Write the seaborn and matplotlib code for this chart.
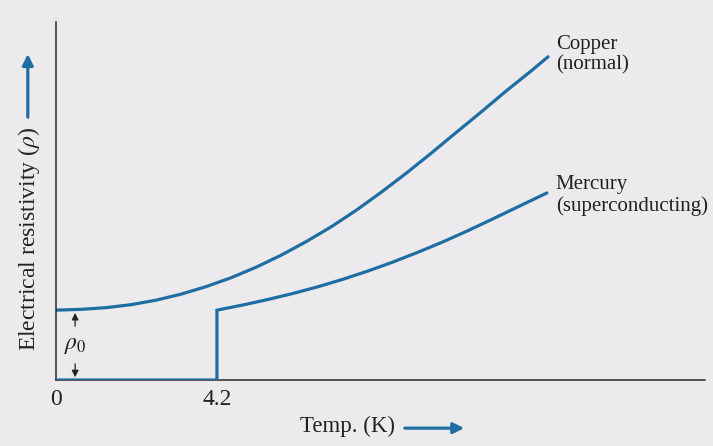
import pandas as pd
import matplotlib.pyplot as plt
import matplotlib.patches as mpatches
import seaborn as sns

# values (temperature in K, resistivity in arbitrary units)
copper_temp = [0, 0.65, 1.30, 1.96, 2.61, 3.26, 3.91, 4.57, 5.22, 5.87, 6.52,
               7.18, 7.83, 8.48, 9.13, 9.78, 10.44, 11.09, 11.74, 12.39, 12.84]
copper_rho = [70, 70.8, 72.5, 75.5, 80, 86, 93.5, 102.5, 113, 125, 138.5,
              153.5, 170, 188, 207, 227, 248, 268.5, 289.5, 309.5, 324]

mercury_temp = [0, 4.2, 4.2, 4.88, 5.53, 6.18, 6.84, 7.49, 8.14, 8.79, 9.44,
                10.10, 10.75, 11.40, 12.05, 12.81]
mercury_rho = [0, 0, 70, 75.2, 80.7, 86.7, 93.5, 101, 109.2, 118.2, 128,
               138.5, 149.7, 161.5, 173.5, 187.5]

x_ticks = [0, 4.2]
x_tick_labels = ["0", "4.2"]

blue = "#1f6ea3"
ink = "#222222"
bg = "#eceaec"

sns.set_theme(style="white")
plt.rcParams["font.family"] = ["Liberation Serif", "DejaVu Serif"]
plt.rcParams["mathtext.fontset"] = "stix"

fig = plt.figure(figsize=(7.13, 4.46), dpi=100, facecolor=bg)
ax = fig.add_axes([0.0785, 0.148, 0.910, 0.803])
ax.set_facecolor(bg)

cu = pd.DataFrame({"T": copper_temp, "rho": copper_rho})
hg = pd.DataFrame({"T": mercury_temp, "rho": mercury_rho})

sns.lineplot(data=cu, x="T", y="rho", sort=False, estimator=None, color=blue,
             lw=2.3, ax=ax, solid_joinstyle="round")
sns.lineplot(data=hg, x="T", y="rho", sort=False, estimator=None, color=blue,
             lw=2.3, ax=ax, zorder=5, solid_joinstyle="miter")

ax.set_xlim(0, 16.93)
ax.set_ylim(0, 359)
for s in ["top", "right"]:
    ax.spines[s].set_visible(False)
for s in ["left", "bottom"]:
    ax.spines[s].set_color("#2a2a2a")
    ax.spines[s].set_linewidth(1.1)

ax.set_xticks(x_ticks)
ax.set_xticklabels(x_tick_labels, fontsize=17)
ax.tick_params(axis="x", length=0, pad=6.5, colors=ink)
ax.set_yticks([])
ax.set_xlabel("")
ax.set_ylabel("")

# rho_0 marker
ax.annotate("", xy=(0.5, 70), xytext=(0.5, 51),
            arrowprops=dict(arrowstyle="-|>", color=ink, lw=0.9, mutation_scale=10))
ax.annotate("", xy=(0.5, 0), xytext=(0.5, 19),
            arrowprops=dict(arrowstyle="-|>", color=ink, lw=0.9, mutation_scale=10))
ax.text(0.5, 35, r"$\rho_0$", fontsize=17, ha="center", va="center", color=ink)

# curve labels
ax.text(13.04, 346, "Copper\n(normal)", fontsize=15, ha="left", va="top",
        color=ink, linespacing=1.1)
ax.text(13.04, 205, "Mercury\n(superconducting)", fontsize=15, ha="left", va="top",
        color=ink, linespacing=1.1)

# axis titles with arrows
fig.text(0.040, 0.464, r"Electrical resistivity ($\rho$)", rotation=90, fontsize=17,
         ha="center", va="center", color=ink)
fig.add_artist(mpatches.FancyArrowPatch(
    (0.039, 0.731), (0.039, 0.885), transform=fig.transFigure,
    arrowstyle="-|>", color=blue, lw=2.3, mutation_scale=16))
fig.text(0.487, 0.045, "Temp. (K)", fontsize=16.5, ha="center", va="center", color=ink)
fig.add_artist(mpatches.FancyArrowPatch(
    (0.564, 0.040), (0.655, 0.040), transform=fig.transFigure,
    arrowstyle="-|>", color=blue, lw=2.3, mutation_scale=16))

plt.savefig("out.png", dpi=100, facecolor=bg)
